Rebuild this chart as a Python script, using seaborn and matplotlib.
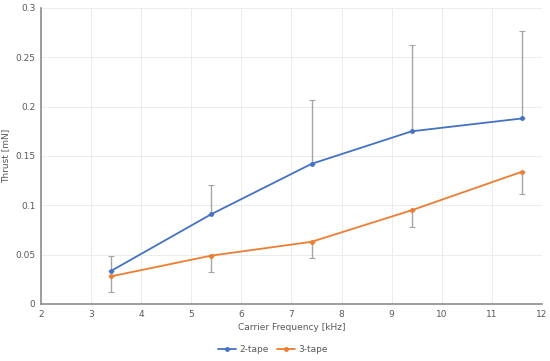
import matplotlib
matplotlib.use("Agg")
import matplotlib.pyplot as plt
import seaborn as sns
import pandas as pd
import numpy as np
from matplotlib.ticker import FuncFormatter, MultipleLocator

freq = [3.4, 5.4, 7.4, 9.4, 11.6]
thrust_2tape = [0.0335, 0.091, 0.142, 0.175, 0.188]
err_up_2tape = [0.015, 0.030, 0.065, 0.087, 0.089]
thrust_3tape = [0.028, 0.049, 0.063, 0.095, 0.134]
err_down_3tape = [0.016, 0.017, 0.016, 0.017, 0.023]

sns.set_theme(style="white")
plt.rcParams['font.family'] = ['DejaVu Sans']

df = pd.DataFrame({
    "Carrier Frequency [kHz]": freq * 2,
    "Thrust [mN]": thrust_2tape + thrust_3tape,
    "series": ["2-tape"] * len(freq) + ["3-tape"] * len(freq),
})

fig = plt.figure(figsize=(5.5, 3.61), dpi=100)
ax = fig.add_axes([0.0745, 0.158, 0.911, 0.82])

grey = "#595959"
ax.errorbar(freq, thrust_2tape, yerr=[np.zeros(len(freq)), err_up_2tape],
            fmt="none", ecolor="#a5a5a5", elinewidth=1.0, capsize=2, capthick=0.8, zorder=2)
ax.errorbar(freq, thrust_3tape, yerr=[err_down_3tape, np.zeros(len(freq))],
            fmt="none", ecolor="#a5a5a5", elinewidth=1.0, capsize=2, capthick=0.8, zorder=2)

sns.lineplot(data=df, x="Carrier Frequency [kHz]", y="Thrust [mN]", hue="series",
             palette={"2-tape": "#4472C4", "3-tape": "#ED7D31"},
             marker="o", markersize=3.5, markeredgewidth=0, linewidth=1.3, ax=ax, zorder=3)

ax.set_xlim(2, 12)
ax.set_ylim(0, 0.3)
ax.xaxis.set_major_locator(MultipleLocator(1))
ax.yaxis.set_major_locator(MultipleLocator(0.05))
ax.yaxis.set_major_formatter(FuncFormatter(lambda v, p: ("%.2f" % v).rstrip("0").rstrip(".")))
ax.grid(True, color="#ececec", linewidth=0.7)
ax.set_axisbelow(True)
for s in ["top", "right"]:
    ax.spines[s].set_visible(False)
for s in ["left", "bottom"]:
    ax.spines[s].set_color("#8c8c8c")
    ax.spines[s].set_linewidth(1.2)
ax.tick_params(axis="both", labelsize=6.5, colors=grey, length=0, pad=4)
ax.set_xlabel("Carrier Frequency [kHz]", fontsize=6.5, color=grey, labelpad=3)
ax.set_ylabel("Thrust [mN]", fontsize=6.5, color=grey, labelpad=4)

handles, labels = ax.get_legend_handles_labels()
ax.legend(handles, labels, loc="center", bbox_to_anchor=(0.463, -0.155), ncol=2,
          frameon=False, fontsize=6.5, handlelength=2.0, handletextpad=0.3,
          columnspacing=1.0, labelcolor=grey, borderpad=0)

fig.savefig("out.png", dpi=100)
